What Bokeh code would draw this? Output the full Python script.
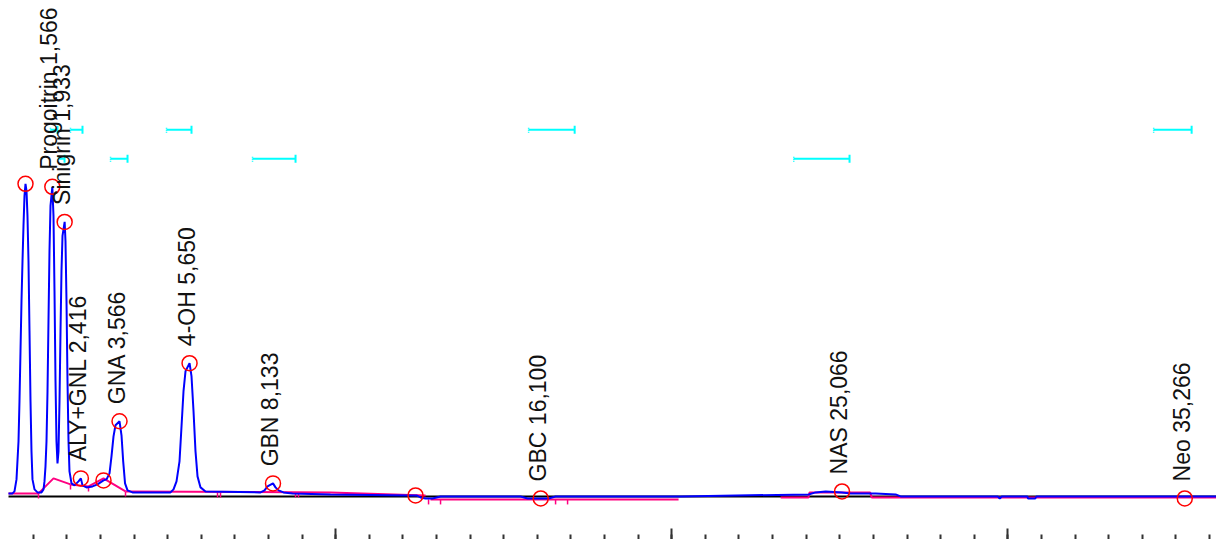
from math import pi
from bokeh.plotting import figure
from bokeh.models import Range1d, LinearAxis, SingleIntervalTicker, CustomJSTickFormatter, ColumnDataSource
from bokeh.core.properties import value
from bokeh.embed import file_html
from bokeh.resources import INLINE

# ---------------- data (retention time in min, signal in arbitrary units) ----------------
trace_time = [0.262, 0.381, 0.440, 0.500, 0.560, 0.589, 0.619, 0.649, 0.679, 0.708, 0.738, 0.768,
              0.798, 0.827, 0.857, 0.887, 0.917, 0.946, 0.976, 1.036, 1.125, 1.244, 1.304, 1.333,
              1.363, 1.393, 1.423, 1.452, 1.482, 1.512, 1.566, 1.601, 1.631, 1.661, 1.690, 1.720,
              1.750, 1.780, 1.810, 1.839, 1.869, 1.933, 1.958, 1.988, 2.018, 2.048, 2.077, 2.137,
              2.226, 2.286, 2.345, 2.416, 2.464, 2.583, 2.762, 2.911, 3.089, 3.179, 3.268, 3.327,
              3.387, 3.446, 3.566, 3.625, 3.675, 3.730, 3.804, 3.952, 5.083, 5.173, 5.262, 5.351,
              5.411, 5.470, 5.530, 5.650, 5.708, 5.768, 5.827, 5.887, 5.976, 6.125, 7.762, 7.881,
              7.970, 8.133, 8.208, 8.298, 8.446, 8.714, 9.845, 12.226, 12.405, 12.524, 12.673,
              12.881, 13.119, 15.500, 15.708, 16.100, 16.333, 16.542, 20.262, 24.070, 24.280,
              24.580, 25.066, 25.320, 26.070, 26.660, 26.810, 29.700, 29.760, 29.820, 30.580,
              30.600, 30.820, 30.850, 36.210]
trace_signal = [2, 2, 4, 16, 54, 94, 144, 194, 234, 269, 299, 311,
                304, 279, 234, 164, 94, 44, 16, 6, 3, 3, 6, 14,
                29, 54, 104, 174, 244, 289, 308, 279, 204, 114, 54, 32,
                44, 94, 164, 224, 259, 273, 254, 194, 114, 54, 24, 12,
                10, 12, 14, 17, 10, 8, 9, 11, 15, 16, 22, 39,
                59, 70, 74, 60, 34, 12, 5, 3, 3, 6, 14, 34,
                69, 104, 124, 132, 119, 84, 44, 19, 8, 4, 3, 5,
                9, 12, 8, 5, 3, 2, 1, 0, 0, -2, -3,
                -3, -1, -1, -3, -3, -3, -1, -1, 1, 3,
                4, 3, 2, 2, 1, -1, -1, -3, -1, -1,
                -3, -3, -1, -1]

zero_time = [0.262, 36.21]
zero_signal = [-1, -1]

# integration baseline segments
base_times = [[0.262, 1.155, 1.601, 2.107], [2.107, 2.643], [2.643, 3.089, 3.744],
              [3.744, 9.845, 12.673], [12.821, 20.202], [23.24, 24.07, 24.10, 25.90, 25.95, 36.21]]
base_values = [[2, 2, 17, 11], [11, 9], [9, 17, 4],
               [4, 3, 0], [-4, -4], [-2, -2, 3, 3, -2, -2]]

# integration event marks
event_time = [1.155, 2.107, 2.643, 3.744, 6.482, 6.571, 8.804, 8.893, 12.762, 13.119, 16.542, 16.899]
event_level = [2, 11, 9, 4, 3, 3, 3, 3, -4, -4, -4, -4]

# detected peaks
peak_time = [0.768, 1.566, 1.933, 2.416, 3.089, 3.566, 5.650, 8.133, 12.375, 16.100, 25.066, 35.266]
peak_height = [311, 308, 273, 17, 15, 74, 132, 12, 0, -3, 4, -3]

# named peaks and labels
label_time = [1.566, 1.933, 2.416, 3.566, 5.650, 8.133, 16.100, 25.066, 35.266]
label_height = [308, 273, 17, 74, 132, 12, -3, 4, -3]
label_text = ["Progoitrin 1,566", "Sinigrin 1,933", "ALY+GNL 2,416", "GNA 3,566", "4-OH 5,650",
              "GBN 8,133", "GBC 16,100", "NAS 25,066", "Neo 35,266"]

# expected retention windows (two alternating rows)
win1_start = [1.51, 2.107, 4.964, 15.74, 34.34]
win1_end = [1.72, 2.464, 5.708, 17.11, 35.47]
win2_start = [1.75, 3.298, 7.524, 23.63]
win2_end = [1.93, 3.804, 8.804, 25.29]
row1_level = 365
row2_level = 336

# ---------------- figure ----------------
p = figure(width=1216, height=539, output_backend="svg", toolbar_location=None,
           x_axis_type=None, y_axis_type=None,
           x_range=Range1d(0.024, 36.21), y_range=Range1d(-44, 494),
           min_border=0, min_border_left=0, min_border_right=0, min_border_top=0, min_border_bottom=0,
           background_fill_color="white", border_fill_color="white")
p.outline_line_color = None
p.grid.visible = False

ax = LinearAxis(ticker=SingleIntervalTicker(interval=10, num_minor_ticks=10),
                formatter=CustomJSTickFormatter(code="return ''"),
                axis_line_color=None,
                major_tick_in=11, major_tick_out=0, minor_tick_in=5, minor_tick_out=0,
                major_tick_line_color="#333333", minor_tick_line_color="#333333",
                major_tick_line_width=2, minor_tick_line_width=2,
                major_label_text_font_size="1px", major_label_standoff=0)
p.add_layout(ax, "below")

# zero line
p.line(zero_time, zero_signal, line_color="black", line_width=2)

# integration baseline
p.multi_line(base_times, base_values, line_color="#FF0080", line_width=2)
p.segment(x0=event_time, y0=event_level, x1=event_time, y1=[v - 5 for v in event_level],
          line_color="#FF0080", line_width=1.5)

# chromatogram trace
p.line(trace_time, trace_signal, line_color="#0000FF", line_width=2)

# peak markers
p.scatter(peak_time, peak_height, marker="circle", size=15, fill_color=None,
          line_color="#FF0000", line_width=1.5)

# retention windows
for starts, ends, lvl in ((win1_start, win1_end, row1_level), (win2_start, win2_end, row2_level)):
    lv = [lvl] * len(starts)
    p.segment(x0=starts, y0=lv, x1=ends, y1=lv, line_color="#00FFFF", line_width=2)
    p.segment(x0=ends, y0=[lvl - 4] * len(ends), x1=ends, y1=[lvl + 4] * len(ends),
              line_color="#00FFFF", line_width=2)
    p.segment(x0=starts, y0=[lvl - 3] * len(starts), x1=starts, y1=[lvl + 3] * len(starts),
              line_color="#00FFFF", line_width=1.5, line_dash="1 1")

# labels
src = ColumnDataSource(dict(x=label_time, y=[h + 17 for h in label_height], t=label_text))
p.text(x="x", y="y", text="t", source=src, angle=pi / 2, text_align="left",
       text_baseline="middle", x_offset=-3, text_color="#111111",
       text_font=value("Liberation Sans"), text_font_size=value("23px"))

open("out.html", "w").write(file_html(p, INLINE))
